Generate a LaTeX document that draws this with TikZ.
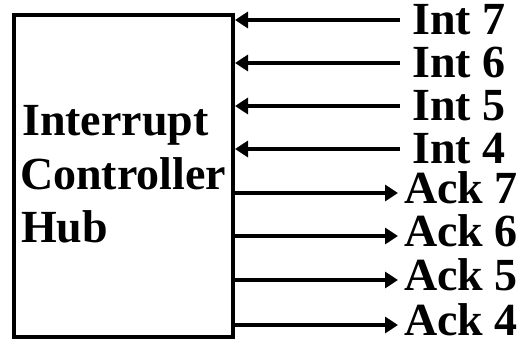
\documentclass[tikz,border=0pt]{standalone}
\usepackage{fontspec}
\setmainfont{Liberation Serif}
\usetikzlibrary{arrows.meta}
\begin{document}
\begin{tikzpicture}[x=1pt,y=-1pt,
  lbl/.style={font=\fontsize{46}{46}\selectfont\bfseries, inner sep=0pt, anchor=base west},
  hub/.style={draw, line width=4pt, minimum width=219pt, minimum height=322pt, inner sep=0pt},
  sig/.style={line width=3.2pt, -{Triangle[length=13pt,width=16pt]}}]
  % canvas
  \fill[white] (0,0) rectangle (524,340);
  \useasboundingbox (0,0) rectangle (524,340);

  % controller block
  \node[hub] (box) at (123.5,176) {};
  \node[lbl] (t1) at (22,135) {Interrupt};
  \node[lbl] (t2) at (20,189) {Controller};
  \node[lbl] (t3) at (21,242) {Hub};

  % interrupt request inputs
  \foreach \n/\y in {7/20, 6/63, 5/106, 4/149} {
    \coordinate (is\n) at (400,\y);
    \node[lbl] (int\n) at (412,\y+14) {Int \n};
    \draw[sig] (is\n) -- (box.east |- is\n);
  }

  % acknowledge outputs
  \foreach \n/\y in {7/193, 6/236, 5/280, 4/325} {
    \coordinate (ae\n) at (398,\y);
    \node[lbl] (ack\n) at (404,\y+10) {Ack \n};
    \draw[sig] (box.east |- ae\n) -- (ae\n);
  }
\end{tikzpicture}
\end{document}
